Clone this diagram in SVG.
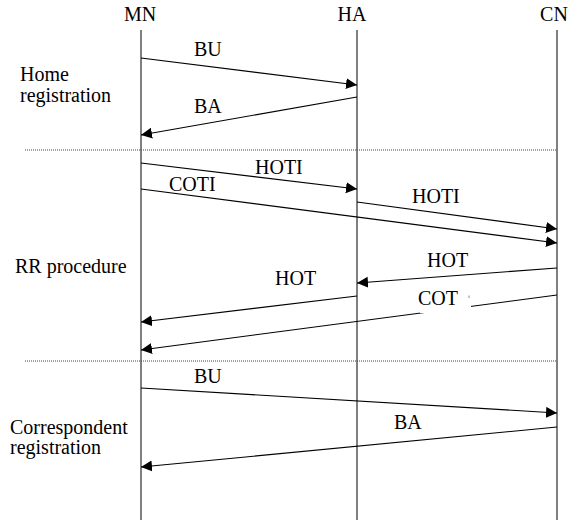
<svg xmlns="http://www.w3.org/2000/svg" width="568" height="520" viewBox="0 0 568 520">
<style>
text{font-family:"Liberation Serif","Times New Roman",serif;font-size:20px;fill:#000}
.life{stroke:#000;stroke-width:1}
.sep{stroke:#444;stroke-width:1;stroke-dasharray:1,1}
.msg{stroke:#000;stroke-width:1.1;fill:none;marker-end:url(#ah)}
</style>
<defs>
<marker id="ah" markerUnits="userSpaceOnUse" markerWidth="12" markerHeight="12" refX="11" refY="5.5" orient="auto">
<path d="M0,0 L11,5.5 L0,11 z" fill="#000"/>
</marker>
</defs>
<rect width="568" height="520" fill="#fff"/>
<g id="MN">
<text x="140" y="21" text-anchor="middle">MN</text>
<line class="life" x1="141" y1="30" x2="141" y2="520" stroke="#333" stroke-width="1.3"/>
</g>
<g id="HA">
<text x="352" y="21" text-anchor="middle">HA</text>
<line class="life" x1="357" y1="30" x2="357" y2="520"/>
</g>
<g id="CN">
<text x="554" y="21" text-anchor="middle">CN</text>
<line class="life" x1="557" y1="30" x2="557" y2="520"/>
</g>
<g id="phases">
<line class="sep" x1="25" y1="150" x2="557" y2="150"/>
<line class="sep" x1="25" y1="361" x2="557" y2="361"/>
<text x="20" y="81">Home</text>
<text x="20" y="102">registration</text>
<text x="15" y="273">RR procedure</text>
<text x="10" y="434">Correspondent</text>
<text x="10" y="454">registration</text>
</g>
<g id="connectors">
<line class="msg" x1="141" y1="58" x2="357" y2="85"/>
<line class="msg" x1="357" y1="97" x2="141" y2="135"/>
<line class="msg" x1="141" y1="163" x2="357" y2="189"/>
<line class="msg" x1="141" y1="189" x2="557" y2="243"/>
<line class="msg" x1="357" y1="202" x2="557" y2="229"/>
<line class="msg" x1="557" y1="268" x2="357" y2="283"/>
<line class="msg" x1="357" y1="296" x2="141" y2="322"/>
<line class="msg" x1="557" y1="295" x2="141" y2="350"/>
<line class="msg" x1="141" y1="388" x2="557" y2="413"/>
<line class="msg" x1="557" y1="427" x2="141" y2="467"/>
</g>
<g id="labels">
<text x="194" y="56">BU</text>
<text x="194" y="113">BA</text>
<text x="255" y="174">HOTI</text>
<text x="169" y="191">COTI</text>
<text x="412" y="203">HOTI</text>
<text x="427" y="267">HOT</text>
<text x="275" y="285">HOT</text>
<rect x="420" y="289" width="51" height="24" fill="#fff"/>
<line x1="469" y1="295.5" x2="469" y2="298" stroke="#888" stroke-width="1"/>
<text x="418" y="305">COT</text>
<text x="194" y="383">BU</text>
<text x="394" y="429">BA</text>
</g>
</svg>
